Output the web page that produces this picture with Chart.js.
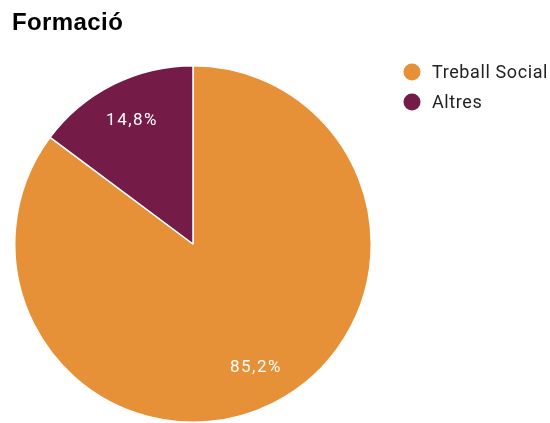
<!DOCTYPE html>
<html>
<head>
<meta charset="utf-8">
<script src="https://cdn.jsdelivr.net/npm/chart.js@4/dist/chart.umd.min.js"></script>
<style>
  html, body { margin: 0; padding: 0; background: #fff; }
  #wrap { width: 550px; height: 423px; position: relative; }
</style>
</head>
<body>
<div id="wrap"><canvas id="c" width="550" height="423"></canvas></div>
<script>
const titleText = 'Formació';
const categories = ['Treball Social', 'Altres'];
const values = [85.2, 14.8];
const colors = ['#E69138', '#741B47'];

// Percentage labels inside each slice, written with a comma decimal
const sliceLabels = {
  id: 'sliceLabels',
  afterDatasetsDraw(chart) {
    const ctx = chart.ctx;
    const meta = chart.getDatasetMeta(0);
    const total = values.reduce((a, b) => a + b, 0);
    ctx.save();
    ctx.fillStyle = '#ffffff';
    ctx.font = '17px Roboto, "Liberation Sans", Arial, sans-serif';
    ctx.letterSpacing = '1.5px';
    ctx.textAlign = 'center';
    ctx.textBaseline = 'middle';
    meta.data.forEach((arc, i) => {
      const mid = (arc.startAngle + arc.endAngle) / 2;
      const r = arc.outerRadius * 0.775;
      const x = arc.x + Math.cos(mid) * r;
      const y = arc.y + Math.sin(mid) * r;
      const pct = (values[i] / total * 100).toFixed(1).replace('.', ',') + '%';
      ctx.fillText(pct, x + 1, y);
    });
    ctx.restore();
  }
};

// Title at top-left and legend on the right
const decorations = {
  id: 'decorations',
  afterDraw(chart) {
    const ctx = chart.ctx;
    ctx.save();
    ctx.fillStyle = '#000000';
    ctx.font = 'bold 24px "Liberation Sans", Arial, sans-serif';
    ctx.letterSpacing = '0.4px';
    ctx.textAlign = 'left';
    ctx.textBaseline = 'alphabetic';
    ctx.fillText(titleText, 12, 30);

    ctx.font = '18px Roboto, "Liberation Sans", Arial, sans-serif';
    ctx.letterSpacing = '0.6px';
    ctx.textBaseline = 'middle';
    categories.forEach((name, i) => {
      const cy = 72 + i * 30;
      ctx.beginPath();
      ctx.arc(412, cy, 8.5, 0, Math.PI * 2);
      ctx.fillStyle = colors[i];
      ctx.fill();
      ctx.fillStyle = '#222222';
      ctx.fillText(name, 432, cy + 1);
    });
    ctx.restore();
  }
};

new Chart(document.getElementById('c'), {
  type: 'pie',
  data: {
    labels: categories,
    datasets: [{
      data: values,
      backgroundColor: colors,
      borderColor: '#ffffff',
      borderWidth: 1.5,
      hoverOffset: 0
    }]
  },
  options: {
    responsive: false,
    animation: false,
    layout: { padding: { left: 14, top: 65, right: 178, bottom: 0 } },
    plugins: {
      legend: { display: false },
      title: { display: false },
      tooltip: { enabled: false }
    }
  },
  plugins: [sliceLabels, decorations]
});
</script>
</body>
</html>
